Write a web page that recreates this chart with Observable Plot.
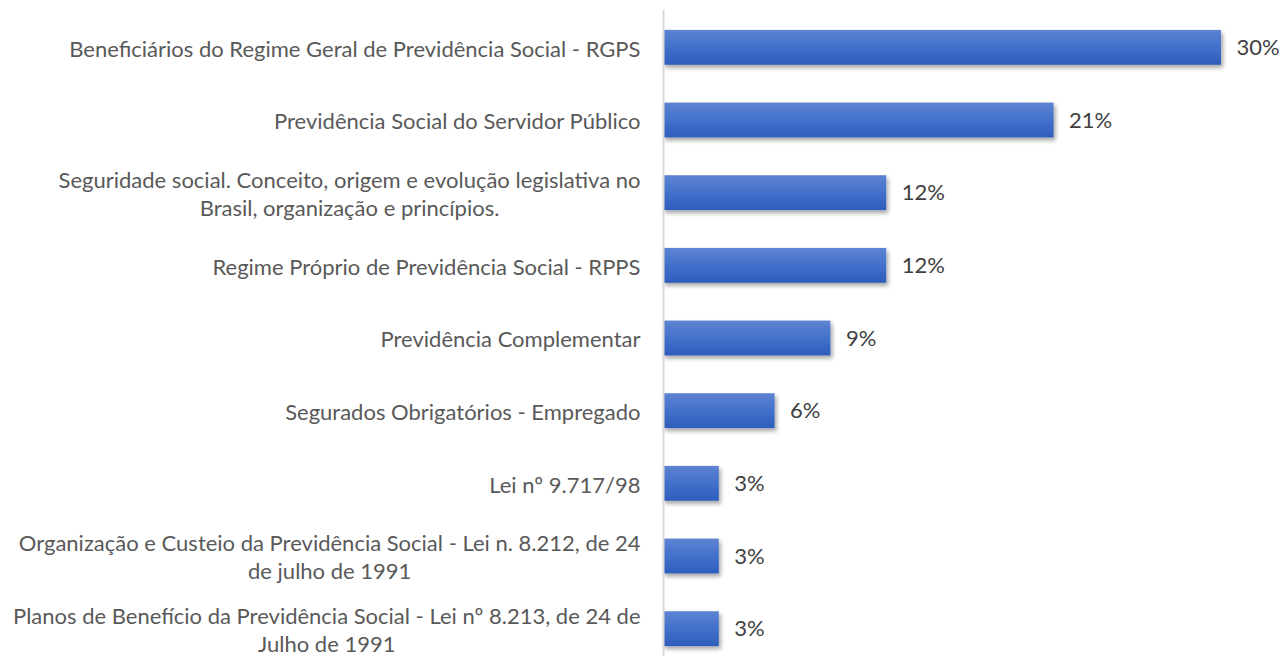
<!DOCTYPE html>
<html>
<head>
<meta charset="utf-8">
<script src="https://cdn.jsdelivr.net/npm/d3@7"></script>
<script src="https://cdn.jsdelivr.net/npm/@observablehq/plot@0.6"></script>
<style>
  html, body { margin: 0; padding: 0; background: #fff; }
  #chart { width: 1281px; height: 656px; overflow: hidden; }
</style>
</head>
<body>
<div id="chart"></div>
<script>
const categories = [
  "Beneficiários do Regime Geral de Previdência Social - RGPS",
  "Previdência Social do Servidor Público",
  "Seguridade social. Conceito, origem e evolução legislativa no\nBrasil, organização e princípios.",
  "Regime Próprio de Previdência Social - RPPS",
  "Previdência Complementar",
  "Segurados Obrigatórios - Empregado",
  "Lei nº 9.717/98",
  "Organização e Custeio da Previdência Social - Lei n. 8.212, de 24\nde julho de 1991",
  "Planos de Benefício da Previdência Social - Lei nº 8.213, de 24 de\nJulho de 1991"
];
const values = [30, 21, 12, 12, 9, 6, 3, 3, 3];
const valueLabels = ["30%", "21%", "12%", "12%", "9%", "6%", "3%", "3%", "3%"];

const data = categories.map((c, i) => ({category: c, value: values[i], label: valueLabels[i]}));
const font = "Lato, 'Open Sans', sans-serif";

const chart = Plot.plot({
  width: 1281,
  height: 656,
  marginTop: 10,
  marginBottom: 0,
  marginLeft: 663,
  marginRight: 60,
  style: {fontFamily: font, fontSize: "22px", background: "#fff"},
  x: {domain: [0, 30], range: [663, 1221], axis: null},
  y: {domain: categories, range: [11, 665], paddingInner: 0.52, paddingOuter: 0.26, round: false, axis: null},
  marks: [
    Plot.barX(data, {x: "value", y: "category", fill: "url(#barGrad)"}),
    Plot.ruleX([0], {stroke: "#d9d9d9", strokeWidth: 2}),
    Plot.axisY({tickSize: 0, tickPadding: 23, label: null, fill: "#595959", fontSize: 22, lineHeight: 1.27}),
    Plot.text(data, {x: "value", y: "category", text: "label", dx: 15, textAnchor: "start", fill: "#404040", fontSize: 22})
  ]
});

const svg = d3.select(chart);
const defs = svg.insert("defs", ":first-child");
const grad = defs.append("linearGradient").attr("id", "barGrad").attr("x1", 0).attr("y1", 0).attr("x2", 0).attr("y2", 1);
grad.append("stop").attr("offset", "0%").attr("stop-color", "#5e84d2");
grad.append("stop").attr("offset", "55%").attr("stop-color", "#3f6fca");
grad.append("stop").attr("offset", "100%").attr("stop-color", "#2e5dbb");
const f = defs.append("filter").attr("id", "shadow").attr("x", "-10%").attr("y", "-30%").attr("width", "130%").attr("height", "180%");
f.append("feDropShadow").attr("dx", 2).attr("dy", 3).attr("stdDeviation", 2).attr("flood-color", "#000").attr("flood-opacity", 0.35);
svg.selectAll("rect").filter(function() { return this.getAttribute("fill") === "url(#barGrad)" || (this.parentNode && this.parentNode.getAttribute("fill") === "url(#barGrad)"); })
  .attr("filter", "url(#shadow)");

document.getElementById("chart").appendChild(chart);

// Center the lines of wrapped tick labels under each other (as in the original)
svg.selectAll("text").each(function() {
  const tspans = this.querySelectorAll("tspan");
  if (tspans.length < 2) return;
  if (!categories.includes(this.textContent.replace(/\s+/g, " ")) &&
      !categories.some(c => c.replace(/\n/g, "") === this.textContent)) {
    // still proceed only for tick labels (they carry newlines in source)
  }
  const lens = Array.from(tspans, t => t.getComputedTextLength());
  const maxLen = Math.max(...lens);
  this.setAttribute("text-anchor", "middle");
  tspans.forEach(t => t.setAttribute("x", -maxLen / 2));
});
</script>
</body>
</html>
